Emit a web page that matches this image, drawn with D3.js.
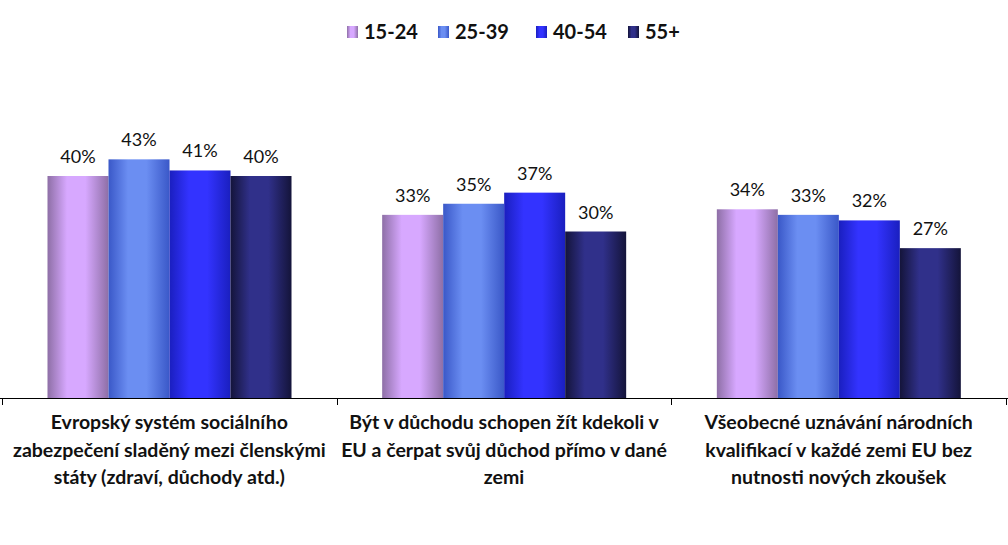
<!DOCTYPE html>
<html>
<head>
<meta charset="utf-8">
<script src="https://cdn.jsdelivr.net/npm/d3@7"></script>
<style>
  body { margin: 0; background: #fff; }
  text { font-family: Lato, "Open Sans", sans-serif; }
</style>
</head>
<body>
<div id="chart"></div>
<script>
// data
const categories = [
  ["Evropský systém sociálního", "zabezpečení sladěný mezi členskými", "státy (zdraví, důchody atd.)"],
  ["Být v důchodu schopen žít kdekoli v", "EU a čerpat svůj důchod přímo v dané", "zemi"],
  ["Všeobecné uznávání národních", "kvalifikací v každé zemi EU bez", "nutnosti nových zkoušek"]
];
const series = ["15-24", "25-39", "40-54", "55+"];
const values = [
  [40, 43, 41, 40],
  [33, 35, 37, 30],
  [34, 33, 32, 27]
];
const edgeColors = ["#8e6fa6", "#3a58c8", "#1a1fbf", "#14143a"];
const midColors = ["#d7a8ff", "#6b8ef2", "#3333ff", "#30308a"];

const width = 1008, height = 545;
const baseY = 398;

const svg = d3.select("#chart").append("svg")
  .attr("width", width)
  .attr("height", height);

// gradients
const defs = svg.append("defs");
series.forEach((s, i) => {
  const g = defs.append("linearGradient")
    .attr("id", "grad" + i)
    .attr("x1", "0%").attr("x2", "100%").attr("y1", "0%").attr("y2", "0%");
  g.append("stop").attr("offset", "0%").attr("stop-color", edgeColors[i]);
  g.append("stop").attr("offset", "32%").attr("stop-color", midColors[i]);
  g.append("stop").attr("offset", "62%").attr("stop-color", midColors[i]);
  g.append("stop").attr("offset", "100%").attr("stop-color", edgeColors[i]);
});

// scales
const x0 = d3.scaleBand()
  .domain(d3.range(categories.length))
  .range([2, 1006]);

const x1 = d3.scaleBand()
  .domain(series)
  .range([45.5, 289.5]);

const y = d3.scaleLinear()
  .domain([0, 50])
  .range([baseY, baseY - 277.5]);

// bars
const groups = svg.selectAll(".group")
  .data(values)
  .join("g")
  .attr("class", "group")
  .attr("transform", (d, i) => `translate(${x0(i)},0)`);

groups.selectAll("rect")
  .data(d => d.map((v, j) => ({ v, s: series[j], j })))
  .join("rect")
  .attr("x", d => x1(d.s))
  .attr("y", d => y(d.v))
  .attr("width", x1.bandwidth())
  .attr("height", d => baseY - y(d.v))
  .attr("fill", d => `url(#grad${d.j})`);

groups.selectAll(".val")
  .data(d => d.map((v, j) => ({ v, s: series[j] })))
  .join("text")
  .attr("class", "val")
  .attr("x", d => x1(d.s) + x1.bandwidth() / 2)
  .attr("y", d => y(d.v) - 13)
  .attr("text-anchor", "middle")
  .style("font-size", "18px")
  .style("fill", "#111")
  .text(d => d.v + "%");

// axis
svg.append("line")
  .attr("x1", 0).attr("x2", width)
  .attr("y1", baseY + 0.5).attr("y2", baseY + 0.5)
  .attr("stroke", "#000").attr("stroke-width", 1.2);

const tickXs = d3.range(categories.length).map(i => x0(i)).concat([x0(categories.length - 1) + x0.bandwidth()]);
svg.selectAll(".tick")
  .data(tickXs)
  .join("line")
  .attr("x1", d => Math.round(d) + 0.5).attr("x2", d => Math.round(d) + 0.5)
  .attr("y1", baseY).attr("y2", baseY + 7)
  .attr("stroke", "#000");

// category labels
categories.forEach((lines, i) => {
  const t = svg.append("text")
    .attr("text-anchor", "middle")
    .style("font-size", "19.5px")
    .style("font-weight", "bold")
    .style("fill", "#111");
  lines.forEach((ln, k) => {
    t.append("tspan")
      .attr("x", x0(i) + x0.bandwidth() / 2)
      .attr("y", 429 + k * 27.5)
      .text(ln);
  });
});

// legend
const legendX = [347, 438, 536, 628];
const legend = svg.selectAll(".legend")
  .data(series)
  .join("g")
  .attr("class", "legend")
  .attr("transform", (d, i) => `translate(${legendX[i]},26)`);

legend.append("rect")
  .attr("width", 11).attr("height", 12)
  .attr("fill", (d, i) => `url(#grad${i})`);

legend.append("text")
  .attr("x", 17)
  .attr("y", 13)
  .style("font-size", "20px")
  .style("font-weight", "bold")
  .style("fill", "#111")
  .text(d => d);
</script>
</body>
</html>
